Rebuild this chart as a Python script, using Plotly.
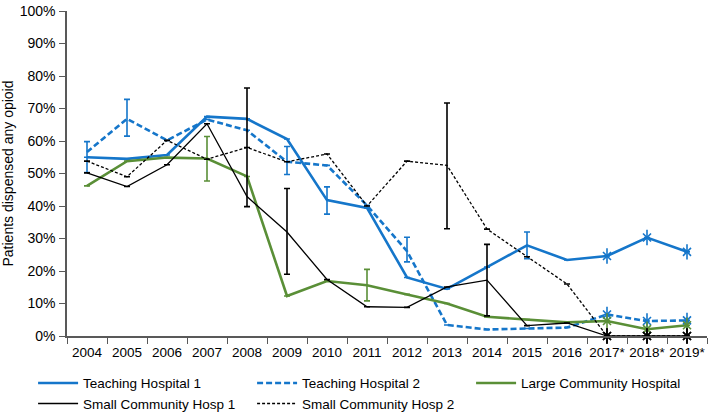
import plotly.graph_objects as go

years = ["2004", "2005", "2006", "2007", "2008", "2009", "2010", "2011", "2012",
         "2013", "2014", "2015", "2016", "2017*", "2018*", "2019*"]

teaching1 = [55.0, 54.5, 55.7, 67.5, 66.8, 60.6, 41.8, 39.4, 18.0, 14.5, 21.2, 27.9, 23.4, 24.6, 30.3, 25.9]
teaching2 = [56.6, 66.8, 60.2, 66.6, 63.3, 53.6, 52.5, 40.2, 26.1, 3.4, 2.0, 2.3, 2.6, 6.6, 4.6, 4.8]
large_comm = [46.2, 53.8, 54.9, 54.6, 49.1, 12.3, 16.9, 15.6, 12.8, 10.0, 5.9, 5.1, 4.2, 4.6, 2.1, 3.3]
small_comm1 = [50.2, 46.0, 52.7, 65.3, 42.9, 32.0, 17.4, 9.0, 8.8, 15.1, 17.2, 3.2, 4.0, 0.0, 0.0, 0.0]
small_comm2 = [53.8, 49.0, 60.2, 54.4, 58.0, 53.6, 56.0, 40.0, 53.8, 52.5, 32.9, 24.4, 16.0, 0.0, 0.0, 0.0]

# error bar bounds (upper, lower); None = no error bar
t1_hi = [None, None, None, None, None, None, 45.9, None, None, None, None, 32.0, None, None, None, None]
t1_lo = [None, None, None, None, None, None, 37.5, None, None, None, None, 23.8, None, None, None, None]
t2_hi = [59.8, 72.8, None, None, None, 58.3, None, None, 30.4, None, None, None, None, None, None, None]
t2_lo = [50.3, 61.5, None, None, None, 49.7, None, None, 22.8, None, None, None, None, None, None, None]
lc_hi = [None, None, None, 61.4, None, None, None, 20.5, None, None, None, None, None, None, None, None]
lc_lo = [None, None, None, 47.7, None, None, None, 10.8, None, None, None, None, None, None, None, None]
s1_hi = [None, None, None, None, 76.3, 45.4, None, None, None, None, 28.2, None, None, None, None, None]
s1_lo = [None, None, None, None, 39.8, 19.0, None, None, None, None, 6.2, None, None, None, None, None]
s2_hi = [None, None, None, None, None, None, None, None, None, 71.7, None, None, None, None, None, None]
s2_lo = [None, None, None, None, None, None, None, None, None, 33.0, None, None, None, None, None, None]

BLUE = "#1576CA"
GREEN = "#5A8F37"
BLACK = "#000000"
AXIS = "#595959"
FONT = "Liberation Sans, Arial, sans-serif"

series = [
    ("Teaching Hospital 1", teaching1, t1_hi, t1_lo, BLUE, 2.6, "solid"),
    ("Teaching Hospital 2", teaching2, t2_hi, t2_lo, BLUE, 2.6, "6px,3px"),
    ("Large Community Hospital", large_comm, lc_hi, lc_lo, GREEN, 2.6, "solid"),
    ("Small Community Hosp 1", small_comm1, s1_hi, s1_lo, BLACK, 1.3, "solid"),
    ("Small Community Hosp 2", small_comm2, s2_hi, s2_lo, BLACK, 1.3, "3px,2px"),
]

fig = go.Figure()

for name, vals, hi, lo, color, w, dash in series:
    plus = [None if h is None else (h - v) / 100 for h, v in zip(hi, vals)]
    minus = [None if l is None else (v - l) / 100 for l, v in zip(lo, vals)]
    fig.add_trace(go.Scatter(
        x=years, y=[v / 100 for v in vals], name=name, mode="lines",
        line=dict(color=color, width=w, dash=dash),
        error_y=dict(type="data", symmetric=False, array=plus, arrayminus=minus,
                     color=color, thickness=1.6, width=3),
    ))

# asterisk markers on the last three (starred) years
for name, vals, hi, lo, color, w, dash in series:
    for sym, size in (("x-thin-open", 8), ("line-ns-open", 11)):
        fig.add_trace(go.Scatter(
            x=years[-3:], y=[v / 100 for v in vals[-3:]], mode="markers",
            showlegend=False, hoverinfo="skip", cliponaxis=False,
            marker=dict(symbol=sym, size=size, color=color,
                        line=dict(color=color, width=1.6)),
        ))

fig.update_layout(
    width=709, height=414,
    margin=dict(l=67, r=2, t=11, b=78, autoexpand=False),
    paper_bgcolor="white", plot_bgcolor="white",
    font=dict(family=FONT, size=14, color="#000000"),
    showlegend=True,
    legend=dict(orientation="h", x=-0.053, xanchor="left", y=-0.0975, yanchor="top",
                entrywidth=164, entrywidthmode="pixels",
                font=dict(size=13.5), itemwidth=40, tracegroupgap=0,
                bgcolor="rgba(0,0,0,0)"),
)

fig.update_xaxes(
    type="category", range=[-0.5, 15.5], tickangle=0, automargin=False,
    showline=True, linecolor=AXIS, linewidth=1.5,
    ticks="outside", ticklen=6, tickcolor=AXIS, tickwidth=1.2, tickson="boundaries",
    ticklabeloverflow="allow", ticklabelstandoff=3,
    showgrid=False, zeroline=False, tickfont=dict(size=13.5),
)
fig.update_yaxes(
    range=[0, 1.0], tickformat=".0%", dtick=0.1, automargin=False,
    showline=True, linecolor=AXIS, linewidth=1.5,
    ticks="outside", ticklen=6, tickcolor=AXIS, tickwidth=1.2, ticklabelstandoff=1,
    showgrid=False, zeroline=False, tickfont=dict(size=14),
    title=dict(text="Patients dispensed any opioid", font=dict(size=14), standoff=3),
)

fig.write_html("out.html", config={"displayModeBar": False},
               post_script="document.body.style.margin='0';document.body.style.padding='0';")
